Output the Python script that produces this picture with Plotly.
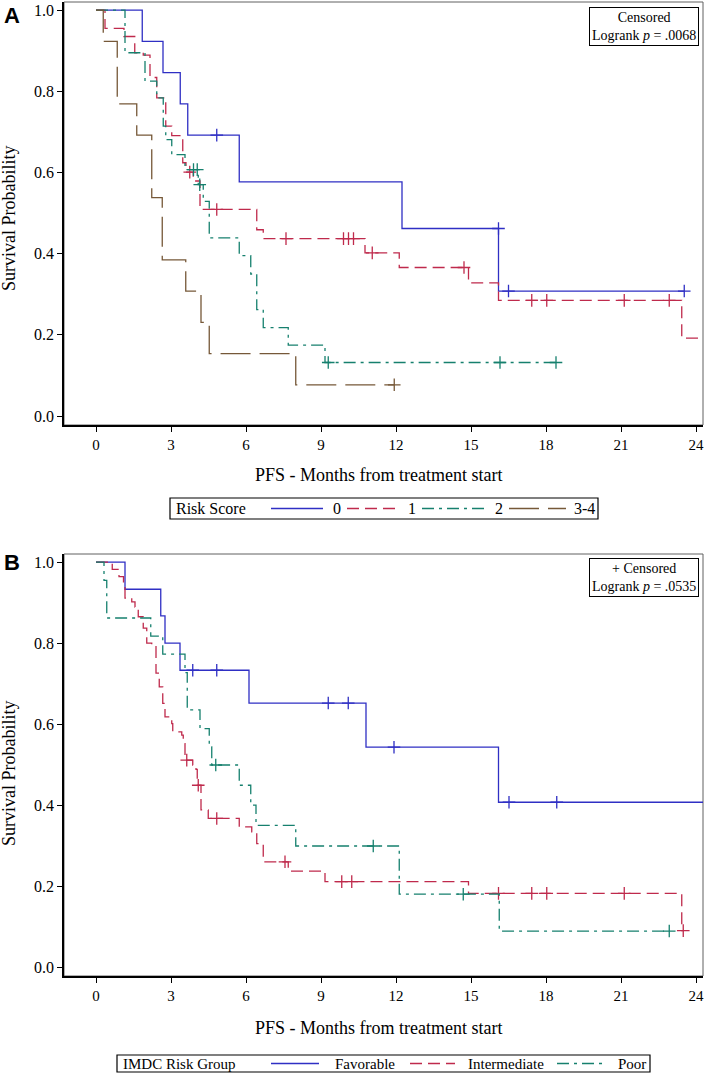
import plotly.graph_objects as go

# ---------------- Panel A : Risk Score ----------------
a0_t = [0, 1.85, 2.68, 3.37, 3.67, 5.73, 12.24, 16.1, 23.53]
a0_s = [1, 0.923, 0.846, 0.769, 0.692, 0.577, 0.462, 0.308, 0.308]
a0_ct = [4.83, 16.1, 16.5, 23.53]
a0_cs = [0.692, 0.462, 0.308, 0.308]

a1_t = [0, 0.36, 1.12, 1.55, 1.89, 2.16, 2.43, 2.79, 3.03, 3.47, 3.6, 3.89, 4.16, 6.43, 6.69, 10.76, 12.13, 14.9, 16.1, 23.43, 24.5]
a1_s = [1, 0.955, 0.935, 0.895, 0.889, 0.834, 0.784, 0.714, 0.691, 0.624, 0.601, 0.579, 0.509, 0.459, 0.437, 0.402, 0.366, 0.328, 0.285, 0.192, 0.192]
a1_ct = [3.75, 4.83, 7.6, 9.9, 10.1, 10.3, 11.05, 14.72, 17.43, 18.03, 21.13, 22.93]
a1_cs = [0.601, 0.509, 0.437, 0.437, 0.437, 0.437, 0.402, 0.366, 0.285, 0.285, 0.285, 0.285]

a2_t = [0, 1.16, 1.96, 2.43, 2.69, 2.79, 3.03, 3.56, 4.09, 4.29, 4.53, 5.73, 6.19, 6.43, 6.69, 7.69, 9.16, 18.4]
a2_s = [1, 0.895, 0.825, 0.784, 0.714, 0.681, 0.644, 0.607, 0.570, 0.529, 0.439, 0.395, 0.350, 0.262, 0.218, 0.175, 0.132, 0.132]
a2_ct = [3.9, 4.05, 4.15, 9.29, 16.16, 18.4]
a2_cs = [0.607, 0.607, 0.570, 0.132, 0.132, 0.132]

a3_t = [0, 0.29, 0.85, 1.63, 2.23, 2.65, 3.59, 4.2, 4.53, 7.99, 11.93]
a3_s = [1, 0.923, 0.769, 0.692, 0.538, 0.385, 0.308, 0.231, 0.154, 0.077, 0.077]
a3_ct = [11.93]
a3_cs = [0.077]

# ---------------- Panel B : IMDC Risk Group ----------------
b0_t = [0, 1.16, 2.59, 2.76, 3.36, 6.12, 10.8, 16.1, 24.5]
b0_s = [1, 0.933, 0.867, 0.80, 0.733, 0.652, 0.543, 0.407, 0.407]
b0_ct = [3.87, 4.83, 9.29, 10.09, 11.92, 16.52, 18.43]
b0_cs = [0.733, 0.733, 0.652, 0.652, 0.543, 0.407, 0.407]

b1_t = [0, 0.65, 0.92, 1.1, 1.16, 1.43, 1.56, 1.69, 1.89, 2.03, 2.23, 2.4, 2.53, 2.67, 2.76, 3.03, 3.07, 3.43,
        3.49, 3.56, 3.87, 4.0, 4.05, 4.2, 4.49, 5.73, 6.23, 6.43, 6.69, 7.69, 9.16, 14.9, 23.43, 23.49]
b1_s = [1, 0.982, 0.964, 0.94, 0.911, 0.902, 0.889, 0.865, 0.837, 0.80, 0.791, 0.726, 0.692, 0.651, 0.618, 0.601, 0.581, 0.573,
        0.552, 0.511, 0.499, 0.488, 0.449, 0.388, 0.367, 0.346, 0.334, 0.305, 0.260, 0.237, 0.211, 0.182, 0.090, 0.090]
b1_ct = [3.63, 4.09, 4.83, 7.56, 9.83, 10.23, 16.1, 17.43, 18.03, 21.13, 23.49]
b1_cs = [0.511, 0.449, 0.367, 0.260, 0.211, 0.211, 0.182, 0.182, 0.182, 0.182, 0.090]

b2_t = [0, 0.32, 0.43, 2.19, 2.67, 3.56, 3.65, 4.16, 4.53, 4.63, 5.73, 6.19, 6.4, 7.99, 12.13, 16.13, 22.93]
b2_s = [1, 0.955, 0.862, 0.817, 0.773, 0.727, 0.635, 0.589, 0.544, 0.499, 0.449, 0.40, 0.35, 0.299, 0.180, 0.089, 0.089]
b2_ct = [4.79, 11.09, 14.69, 22.93]
b2_cs = [0.499, 0.299, 0.180, 0.089]

x_ticks = [0, 3, 6, 9, 12, 15, 18, 21, 24]
y_ticks = [0.0, 0.2, 0.4, 0.6, 0.8, 1.0]

legend_a_title = "Risk Score"
legend_a_names = ["0", "1", "2", "3-4"]
legend_b_title = "IMDC Risk Group"
legend_b_names = ["Favorable", "Intermediate", "Poor"]

BLUE = "#2f2fc4"
RED = "#bf2a4c"
GREEN = "#16806e"
BROWN = "#765838"
SERIF = "Liberation Serif"
DASH_RED = "12px,6px"
DASH_GREEN = "12px,5px,3px,5px"
DASH_BROWN = "30px,9px"

W, H = 709, 1073


def px(v):
    return v / W


def py(v):
    return 1 - v / H


fig = go.Figure()


def add_curve(t, s, ct, cs, name, color, dash, xa, ya):
    fig.add_trace(go.Scatter(
        x=t, y=s, mode="lines", line=dict(shape="hv", color=color, width=1.3, dash=dash),
        name=name, xaxis=xa, yaxis=ya, showlegend=False, hoverinfo="skip"))
    fig.add_trace(go.Scatter(
        x=ct, y=cs, mode="markers", showlegend=False, xaxis=xa, yaxis=ya, hoverinfo="skip",
        marker=dict(symbol="cross-thin", size=9, color=color, line=dict(color=color, width=1.3))))


add_curve(a0_t, a0_s, a0_ct, a0_cs, legend_a_names[0], BLUE, "solid", "x", "y")
add_curve(a1_t, a1_s, a1_ct, a1_cs, legend_a_names[1], RED, DASH_RED, "x", "y")
add_curve(a2_t, a2_s, a2_ct, a2_cs, legend_a_names[2], GREEN, DASH_GREEN, "x", "y")
add_curve(a3_t, a3_s, a3_ct, a3_cs, legend_a_names[3], BROWN, DASH_BROWN, "x", "y")

add_curve(b0_t, b0_s, b0_ct, b0_cs, legend_b_names[0], BLUE, "solid", "x2", "y2")
add_curve(b1_t, b1_s, b1_ct, b1_cs, legend_b_names[1], RED, DASH_RED, "x2", "y2")
add_curve(b2_t, b2_s, b2_ct, b2_cs, legend_b_names[2], GREEN, DASH_GREEN, "x2", "y2")

xaxis_common = dict(range=[-1.28, 24.28], tickvals=x_ticks, ticktext=[str(v) for v in x_ticks],
                    ticks="outside", ticklen=5, tickwidth=1.2, tickcolor="black",
                    showline=True, linecolor="black", linewidth=1.5, mirror=False,
                    showgrid=False, zeroline=False,
                    tickfont=dict(family=SERIF, size=15, color="black"))
yaxis_common = dict(range=[-0.022, 1.02], tickvals=y_ticks, ticktext=[f"{v:.1f}" for v in y_ticks],
                    ticks="outside", ticklen=5, tickwidth=1.2, tickcolor="black",
                    showline=True, linecolor="black", linewidth=1.5, mirror=False,
                    showgrid=False, zeroline=False,
                    tickfont=dict(family=SERIF, size=16, color="black"))

fig.update_layout(
    width=W, height=H, margin=dict(l=0, r=0, t=0, b=0),
    paper_bgcolor="white", plot_bgcolor="white",
    xaxis=dict(domain=[px(64), px(703)], anchor="y", **xaxis_common),
    yaxis=dict(domain=[py(425), py(2)], anchor="x", **yaxis_common),
    xaxis2=dict(domain=[px(64), px(703)], anchor="y2", **xaxis_common),
    yaxis2=dict(domain=[py(976), py(554)], anchor="x2", **yaxis_common),
    showlegend=False,
)

shapes = []
# plot frames (top/right thin gray)
for xa, ya in [("x", "y"), ("x2", "y2")]:
    shapes.append(dict(type="rect", xref=f"{xa} domain", yref=f"{ya} domain", x0=0, x1=1, y0=0, y1=1,
                       line=dict(color="#606060", width=1), layer="below"))


def legend_box(x0, x1, y0, y1, title, title_x, items, size):
    annos = []
    shapes.append(dict(type="rect", xref="paper", yref="paper", x0=px(x0), x1=px(x1), y0=py(y1), y1=py(y0),
                       line=dict(color="black", width=1.2), fillcolor="white"))
    yc = (y0 + y1) / 2
    annos.append(dict(text=title, x=px(title_x), y=py(yc), xanchor="left", yanchor="middle",
                      font=dict(family=SERIF, size=size, color="black")))
    for (lx0, lx1, tx, name, color, dash) in items:
        shapes.append(dict(type="line", xref="paper", yref="paper", x0=px(lx0), x1=px(lx1), y0=py(yc), y1=py(yc),
                           line=dict(color=color, width=1.3, dash=dash)))
        annos.append(dict(text=name, x=px(tx), y=py(yc), xanchor="left", yanchor="middle",
                          font=dict(family=SERIF, size=size, color="black")))
    return annos


leg_annos = []
leg_annos += legend_box(170, 598, 498, 519, legend_a_title, 174, [
    (271, 323, 331, legend_a_names[0], BLUE, "solid"),
    (347, 398, 406, legend_a_names[1], RED, DASH_RED),
    (422, 484, 493, legend_a_names[2], GREEN, DASH_GREEN),
    (509, 566, 572, legend_a_names[3], BROWN, DASH_BROWN),
], 16)
leg_annos += legend_box(117, 650, 1055, 1072, legend_b_title, 121, [
    (271, 319, 333, legend_b_names[0], BLUE, "solid"),
    (410, 455, 466, legend_b_names[1], RED, DASH_RED),
    (557, 602, 616, legend_b_names[2], GREEN, DASH_GREEN),
], 15)

annos = [
    dict(text="<b>A</b>", x=px(2), y=py(1), xanchor="left", yanchor="top",
         font=dict(family="Liberation Sans", size=22, color="black")),
    dict(text="<b>B</b>", x=px(2), y=py(548), xanchor="left", yanchor="top",
         font=dict(family="Liberation Sans", size=22, color="black")),
    dict(text="Censored<br>Logrank <i>p</i> = .0068", x=px(699), y=py(7), xanchor="right", yanchor="top",
         align="center", bordercolor="black", borderwidth=1, borderpad=2, bgcolor="white",
         font=dict(family=SERIF, size=14, color="black")),
    dict(text="+ Censored<br>Logrank <i>p</i> = .0535", x=px(699), y=py(558), xanchor="right", yanchor="top",
         align="center", bordercolor="black", borderwidth=1, borderpad=2, bgcolor="white",
         font=dict(family=SERIF, size=14, color="black")),
    dict(text="Survival Probability", x=px(9), y=py(218), textangle=-90, xanchor="center", yanchor="middle",
         font=dict(family=SERIF, size=18, color="black")),
    dict(text="Survival Probability", x=px(9), y=py(773), textangle=-90, xanchor="center", yanchor="middle",
         font=dict(family=SERIF, size=18, color="black")),
    dict(text="PFS - Months from treatment start", x=px(379), y=py(475), xanchor="center", yanchor="middle",
         font=dict(family=SERIF, size=18, color="black")),
    dict(text="PFS - Months from treatment start", x=px(379), y=py(1028), xanchor="center", yanchor="middle",
         font=dict(family=SERIF, size=18, color="black")),
] + leg_annos
for a in annos:
    a.update(xref="paper", yref="paper", showarrow=False)
fig.update_layout(annotations=annos, shapes=shapes)

fig.write_html("out.html", config={"displayModeBar": False},
               post_script="document.body.style.margin='0';document.body.style.overflow='hidden';")
